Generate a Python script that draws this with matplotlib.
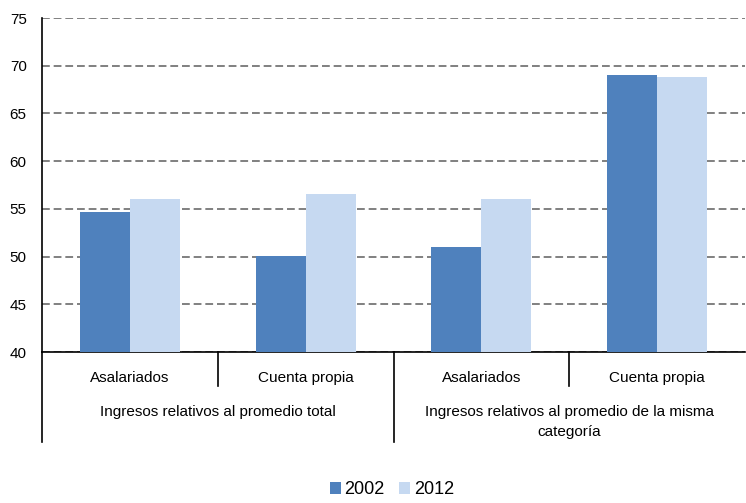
import matplotlib
matplotlib.use("Agg")
import matplotlib.pyplot as plt
from matplotlib.transforms import blended_transform_factory

plt.rcParams['font.family'] = ['Liberation Sans', 'DejaVu Sans']

categories = ["Asalariados", "Cuenta propia", "Asalariados", "Cuenta propia"]
groups = [["Ingresos relativos al promedio total"],
          ["Ingresos relativos al promedio de la misma", "categoría"]]
series_names = ["2002", "2012"]
values_2002 = [54.7, 50.1, 51.0, 69.0]
values_2012 = [56.0, 56.6, 56.0, 68.8]
yticks = [40, 45, 50, 55, 60, 65, 70, 75]

W, H = 746, 503
fig = plt.figure(figsize=(W / 100, H / 100), dpi=100)
ax = fig.add_axes([42 / W, 1 - 352 / H, (745 - 42) / W, (352 - 18) / H])

x = list(range(len(categories)))
bw = 0.284
c1, c2 = "#4f81bd", "#c6d9f1"
ax.bar([i - bw / 2 for i in x], values_2002, width=bw, color=c1, label=series_names[0], zorder=3)
ax.bar([i + bw / 2 for i in x], values_2012, width=bw, color=c2, label=series_names[1], zorder=3)

ax.set_xlim(-0.5, 3.5)
ax.set_ylim(40, 75)
ax.set_yticks(yticks)
ax.set_yticklabels([str(t) for t in yticks], fontsize=11)
ax.tick_params(axis='y', length=0, pad=11)
ax.set_xticks([])
ax.yaxis.grid(True, color="#808080", linestyle=(0, (4, 2)), linewidth=1.4, zorder=0)
ax.set_axisbelow(True)
for s in ["top", "right"]:
    ax.spines[s].set_visible(False)
ax.spines["left"].set_linewidth(1.2)
ax.spines["bottom"].set_linewidth(1.2)

# multi-level category axis
tr = blended_transform_factory(ax.transData, fig.transFigure)
def fy(py):
    return 1 - py / H
for i, c in enumerate(categories):
    ax.text(i, fy(378), c, transform=tr, ha="center", va="center", fontsize=11)
for gi, lines in enumerate(groups):
    for li, line in enumerate(lines):
        ax.text(gi * 2 + 0.5, fy(412 + 20 * li), line, transform=tr, ha="center",
                va="center", fontsize=11)
for xb, bottom in [(-0.5, 442), (0.5, 386), (1.5, 442), (2.5, 386)]:
    ax.plot([xb, xb], [fy(352), fy(bottom)], transform=tr, color="black",
            linewidth=1.2, clip_on=False)

leg = fig.legend(loc="center", bbox_to_anchor=(392 / W, 1 - 490 / H), ncol=2,
                 frameon=False, fontsize=13, handlelength=0.6, handleheight=0.6,
                 handletextpad=0.2, columnspacing=0.8)

fig.savefig("out.png", dpi=100)
